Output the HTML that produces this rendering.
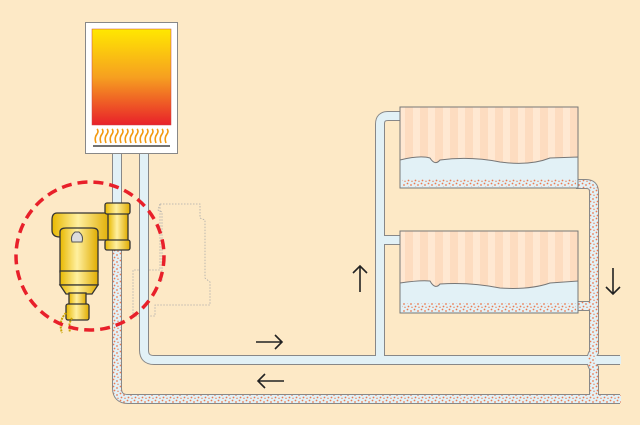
<!DOCTYPE html>
<html><head><meta charset="utf-8"><style>html,body{margin:0;padding:0;background:#fde9c6}svg{display:block}</style></head><body>
<svg width="640" height="425" viewBox="0 0 640 425" xmlns="http://www.w3.org/2000/svg">
<defs>
<linearGradient id="bg" x1="0" y1="0" x2="0" y2="1"><stop offset="0" stop-color="#ffe800"/><stop offset="0.5" stop-color="#f6a020"/><stop offset="1" stop-color="#e8202a"/></linearGradient>
<linearGradient id="brass" x1="0" y1="0" x2="1" y2="0"><stop offset="0" stop-color="#e8b800"/><stop offset="0.45" stop-color="#fff0a0"/><stop offset="1" stop-color="#e0ac00"/></linearGradient>
<pattern id="dots" width="7" height="7" patternUnits="userSpaceOnUse"><rect width="7" height="7" fill="#e2f1f6"/><circle cx="1.5" cy="1.5" r="0.9" fill="#ec7a50"/><circle cx="5" cy="3" r="0.9" fill="#ec7a50"/><circle cx="2.5" cy="5.5" r="0.9" fill="#ec7a50"/><circle cx="6" cy="6.3" r="0.7" fill="#ec7a50"/></pattern>
<pattern id="stripes" width="15" height="10" patternUnits="userSpaceOnUse"><rect width="15" height="10" fill="#fddcc0"/><rect x="8" width="7" height="10" fill="#ffe8d2"/></pattern>
</defs>
<rect width="640" height="425" fill="#fde9c6"/>
<path d="M160 204 L200 204 L200 218 L205 220 L205 278 L210 282 L210 305 L155 305 L155 316 L133 316 L133 270 L160 270 Z M160 204 L158 210 L162 212 L162 282" fill="none" stroke="#aaa" stroke-width="0.8" stroke-dasharray="1.5 1.5"/>
<!-- outlines -->
<g fill="none" stroke="#888" stroke-width="10">
<path d="M117 154 L117 388 Q117 399 128 399 L620 399"/>
<path d="M144 154 L144 350 Q144 360 154 360 L620 360"/>
<path d="M380 360 L380 124 Q380 116 388 116 L402 116 M380 240 L402 240"/>
<path d="M576 184 L586 184 Q594 184 594 192 L594 352 Q589 360 594 368 L594 399 M576 306 L594 306"/>
</g>
<!-- fills -->
<g fill="none" stroke-width="8">
<path d="M144 154 L144 350 Q144 360 154 360 L621 360" stroke="#e2f1f6"/>
<path d="M380 362 L380 124 Q380 116 388 116 L402 116 M380 240 L402 240" stroke="#e2f1f6"/>
<path d="M117 154 L117 388 Q117 399 128 399 L621 399" stroke="url(#dots)"/>
<path d="M117 154 L117 250" stroke="#e2f1f6"/>
<path d="M576 184 L586 184 Q594 184 594 192 L594 352 Q589 360 594 368 L594 399 M576 306 L594 306" stroke="url(#dots)"/>
</g>
<!-- radiators -->
<g stroke="#777" stroke-width="1">
<rect x="400" y="107" width="178" height="81" fill="url(#stripes)"/>
<path d="M400 160 Q420 155 430 158 Q435 166 440 160 Q470 156 500 162 Q530 166 550 158 L578 157 L578 188 L400 188 Z" fill="#e2f1f6"/>
<rect x="400" y="231" width="178" height="82" fill="url(#stripes)"/>
<path d="M400 283 Q420 280 430 281 Q435 290 440 284 Q470 282 500 288 Q530 290 550 283 L578 281 L578 313 L400 313 Z" fill="#e2f1f6"/>
</g>
<rect x="402" y="179" width="174" height="8" fill="url(#dots)"/>
<rect x="402" y="303" width="174" height="9" fill="url(#dots)"/>
<!-- boiler -->
<rect x="85.5" y="22.5" width="92" height="131" fill="#fff" stroke="#888"/>
<rect x="92" y="29" width="79" height="96" fill="url(#bg)" stroke="#c44" stroke-width="0.5"/>
<g stroke="#f39a10" stroke-width="1.6" fill="none">
<path d="M96 143 q-2 -5 1 -9 q2 -3 0 -5 M101 143 q-2 -5 1 -9 q2 -3 0 -5 M106 143 q-2 -5 1 -9 q2 -3 0 -5 M111 143 q-2 -5 1 -9 q2 -3 0 -5 M116 143 q-2 -5 1 -9 q2 -3 0 -5 M121 143 q-2 -5 1 -9 q2 -3 0 -5 M126 143 q-2 -5 1 -9 q2 -3 0 -5 M131 143 q-2 -5 1 -9 q2 -3 0 -5 M136 143 q-2 -5 1 -9 q2 -3 0 -5 M141 143 q-2 -5 1 -9 q2 -3 0 -5 M146 143 q-2 -5 1 -9 q2 -3 0 -5 M151 143 q-2 -5 1 -9 q2 -3 0 -5 M156 143 q-2 -5 1 -9 q2 -3 0 -5 M161 143 q-2 -5 1 -9 q2 -3 0 -5 M166 143 q-2 -5 1 -9 q2 -3 0 -5"/>
</g>
<line x1="93" y1="146" x2="170" y2="146" stroke="#444" stroke-width="1.5"/>
<!-- separator -->
<g stroke="#333" stroke-width="1.3" fill="url(#brass)">
<path d="M57 213 L110 213 L110 240 L98 240 L98 237 L60 237 Q52 237 52 230 L52 220 Q52 213 57 213 Z"/>
<rect x="108" y="212" width="20" height="30"/>
<rect x="105" y="203" width="25" height="11" rx="2"/>
<rect x="105" y="240" width="25" height="10" rx="2"/>
<path d="M60 232 Q60 228 66 228 L92 228 Q98 228 98 232 L98 272 L60 272 Z"/>
<rect x="60" y="271" width="38" height="14"/>
<path d="M60 285 L98 285 L92 294 L66 294 Z"/>
<rect x="69" y="293" width="17" height="12"/>
<rect x="66" y="304" width="23" height="16" rx="2"/>
</g>
<path d="M75 232 q-5 4 -3 10 l10 0 q2 -6 -3 -10 z" fill="#ddd" stroke="#555"/>
<path d="M66 313 q-8 8 -4 20 M72 318 q-4 6 -2 14" fill="none" stroke="#c9a200" stroke-width="2" stroke-dasharray="2 1"/>
<circle cx="90" cy="256" r="74" fill="none" stroke="#e8202a" stroke-width="3.5" stroke-dasharray="10 6"/>
<g stroke="#222" stroke-width="1.6" fill="none">
<path d="M360 292 L360 266 M353 273 L360 266 L367 273"/>
<path d="M256 342 L282 342 M275 335 L282 342 L275 349"/>
<path d="M284 381 L258 381 M265 374 L258 381 L265 388"/>
<path d="M613 268 L613 294 M606 287 L613 294 L620 287"/>
</g>
</svg>
</body></html>
